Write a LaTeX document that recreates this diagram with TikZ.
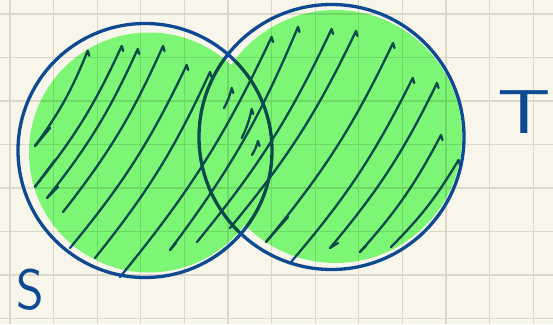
\documentclass[tikz,border=0pt]{standalone}
\usepackage{tikz}
\usetikzlibrary{positioning}
\definecolor{paper}{HTML}{F8F5EA}
\definecolor{gridline}{HTML}{DDD8CA}
\definecolor{penblue}{HTML}{0D4A92}
\definecolor{marker}{HTML}{81FF80}
\tikzset{
  % ---- sheet ----------------------------------------------------------
  gridrule/.style={draw=gridline, line width=1.3pt},
  % ---- sets -----------------------------------------------------------
  vset/.style={circle, draw=penblue, line width=3.3pt, inner sep=0pt},
  vfill/.style={fill=marker, blend mode=multiply},
  vhatch/.style={draw=penblue, line width=2.3pt, line cap=round,
                 line join=round},
  vname/.style={text=penblue, inner sep=0pt,
                font=\sffamily\fontsize{62}{62}\selectfont},
}

\begin{document}
\begin{tikzpicture}[x=1pt, y=-1pt]

% ---- paper and squares -----------------------------------------------
\fill[paper] (0,0) rectangle (553,324);
\useasboundingbox (0,0) rectangle (553,324);
\foreach \i in {0,...,12}
  \draw[gridrule] (10+43.6*\i,0) -- (10+43.6*\i,324);
\foreach \j in {0,...,7}
  \draw[gridrule] (0,14+43.5*\j) -- (553,14+43.5*\j);

% ---- the two sets ----------------------------------------------------
\node[vset, minimum size=254pt] (setS) at (145,150.5) {};
\node[vset, minimum size=265pt] (setT) at (331.5,137) {};

% ---- hatching: bottom x/y, top x/y -----------------------------------
\foreach \bx/\by/\tx/\ty in {35/146/87.7/50.7, 35/186.7/121.7/46,
    47/198/137.7/49, 63/212/163/46, 70/248/186.7/65, 95/258/210/72,
    120/277/271.6/37, 170/250/298/27, 197/242/331.6/29, 230/228/356/31,
    266/242/393/43, 291/262/412.7/78, 330/248/437/83, 360/252/441/135,
    391/247/458.5/160, 224/108/231.7/88, 241.7/138/251.7/109,
    252/155/258/141}{
  \draw[vhatch] (\bx,\by) to[bend right=7] (\tx,\ty) -- ++(1.5,5);
}

% ---- hooks at the lower ends ------------------------------------------
\foreach \bx/\by/\hx/\hy in {35/146/50/128, 35/186.7/55/160,
    47/198/58/187, 170/250/176/243, 266/242/288/217, 330/248/338/243,
    360/252/366/246}{
  \draw[vhatch] (\bx,\by) -- (\hx,\hy);
}

% ---- marker over everything ------------------------------------------
\fill[vfill] (149,152.5) circle[radius=120] (335.5,136.5) circle[radius=126.5];

% ---- names -----------------------------------------------------------
\node[vname, xscale=0.85, yscale=0.92] (labS) at (30,290) {S};
\node[vname, xscale=1.35] (labT) at (524.5,112.5) {T};

\end{tikzpicture}
\end{document}
